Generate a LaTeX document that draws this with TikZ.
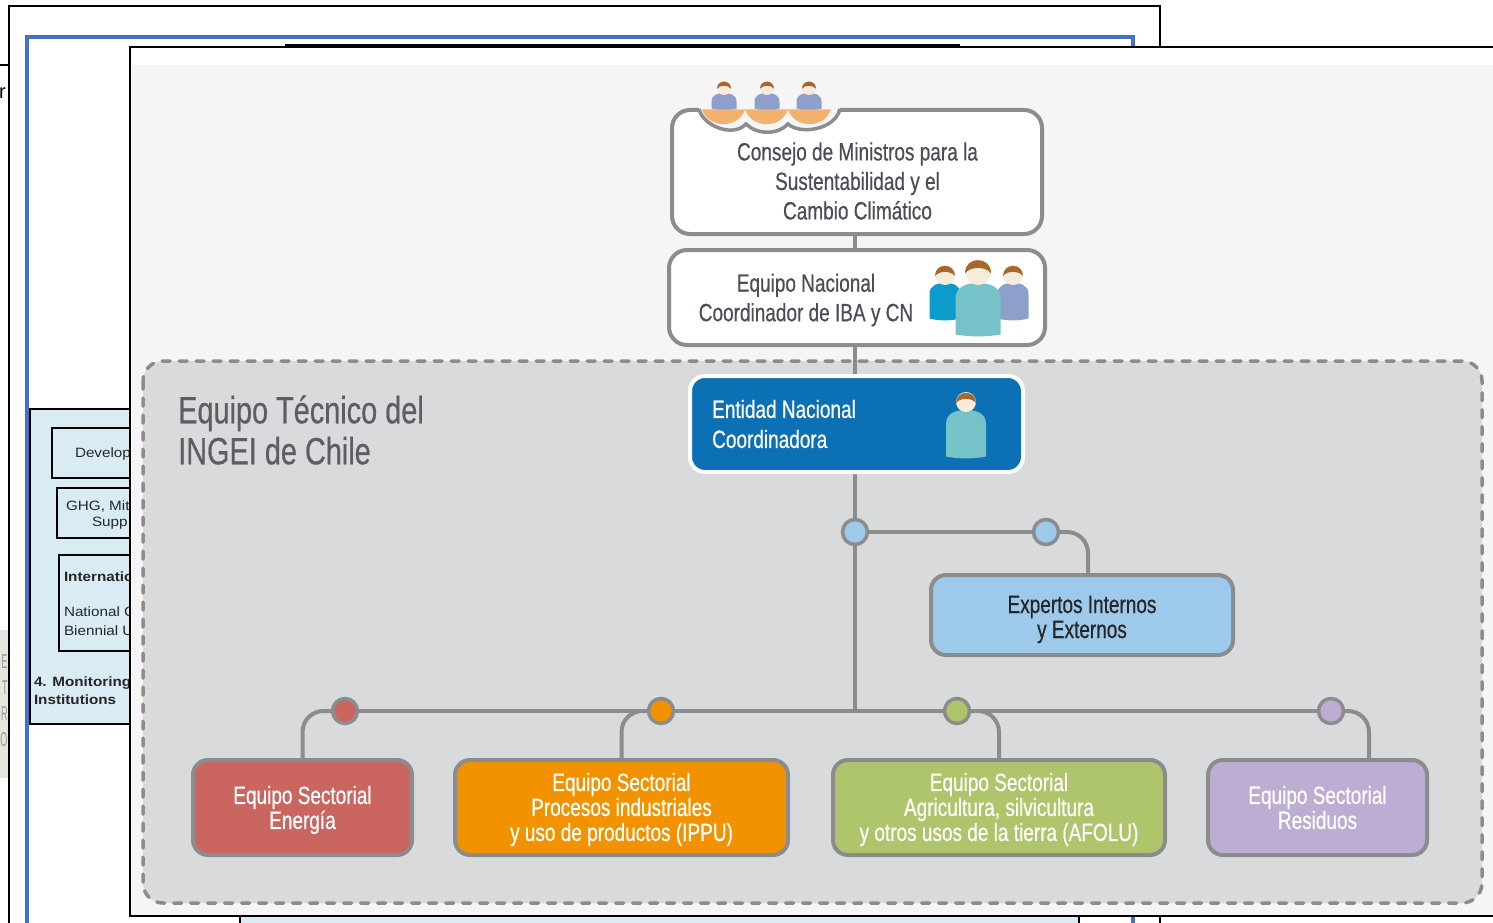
\documentclass[tikz,border=0pt]{standalone}
\usepackage{fontspec}
\setmainfont{Liberation Sans}
\newfontfamily\cond[FakeStretch=0.76,FakeBold=0.5]{Liberation Sans}
\newfontfamily\wider[FakeStretch=1.13]{Liberation Sans}
\newfontfamily\slim[FakeStretch=0.45]{Liberation Sans}
\pgfdeclarelayer{wires}\pgfdeclarelayer{front}
\pgfsetlayers{main,wires,front}
\definecolor{wire}{HTML}{8A8C8E}
\definecolor{panel}{HTML}{F5F5F5}
\definecolor{zone}{HTML}{D9DADC}
\definecolor{framblue}{HTML}{4472C4}
\definecolor{pale}{HTML}{D9ECF4}
\definecolor{ink}{HTML}{4B4E58}
\definecolor{titleink}{HTML}{5C5E63}
\definecolor{cblue}{HTML}{0C70B5}
\definecolor{csky}{HTML}{9DC9EA}
\definecolor{cred}{HTML}{CB655F}
\definecolor{corange}{HTML}{F39200}
\definecolor{cgreen}{HTML}{AEC56B}
\definecolor{cpurple}{HTML}{BDADD3}
\definecolor{bowl}{HTML}{F2B26E}
\definecolor{hair}{HTML}{A6682B}
\definecolor{skin}{HTML}{F7EBDC}
\definecolor{bodyblue}{HTML}{8F9FCB}
\definecolor{bodyteal}{HTML}{76C2C9}
\definecolor{bodycyan}{HTML}{0C9CCB}
\definecolor{patch}{HTML}{E6E6DE}
% cx, head cy, head r, half width, body top, body bottom, colour
\newcommand{\personfig}[7]{%
  \fill[#7] ({#1-#4},{#6-1.5}) -- ({#1-#4},{#5+#4*0.7})
     .. controls ({#1-#4},{#5+#4*0.15}) and ({#1-#4*0.5},{#5}) .. ({#1},{#5})
     .. controls ({#1+#4*0.5},{#5}) and ({#1+#4},{#5+#4*0.15}) .. ({#1+#4},{#5+#4*0.7})
     -- ({#1+#4},{#6-1.5}) .. controls ({#1+#4*0.4},{#6+1}) and ({#1-#4*0.4},{#6+1}) .. cycle;
  \fill[skin] (#1,#2) circle[radius=#3];
  \fill[hair] ({#1-#3},{#2+#3*0.1}) .. controls ({#1-#3},{#2-#3*1.25}) and ({#1+#3},{#2-#3*1.25}) .. ({#1+#3},{#2+#3*0.1})
     .. controls ({#1+#3*0.6},{#2-#3*0.45}) and ({#1-#3*0.6},{#2-#3*0.45}) .. cycle;
}
\tikzset{
  x=1pt,y=-1pt,
  sz/.style 2 args={font=\cond\fontsize{#1}{#2}\selectfont},
  team/.style={draw=wire,line width=4pt,rounded corners=15pt,inner sep=0pt,outer sep=0pt},
  teamtxt/.style={inner sep=0pt,outer sep=0pt,align=center,text=white,sz={25}{25}},
  whitebox/.style={draw=wire,line width=4pt,fill=white,rounded corners=18pt,inner sep=0pt,outer sep=0pt},
  txtlab/.style={inner sep=0pt,outer sep=0pt,align=center,text=ink,sz={25}{29.5}},
  dotnode/.style={circle,draw=wire,line width=3.5pt,minimum size=25pt,inner sep=0pt,outer sep=0pt},
  conn/.style={draw=wire,line width=4pt},
  curvewire/.style={conn,rounded corners=21pt},
  under/.style={inner sep=0pt,outer sep=0pt,anchor=west,text=black!85,font=\wider\fontsize{13.5}{15}\selectfont},
  underbold/.style={under,font=\wider\bfseries\fontsize{13.5}{15}\selectfont},
  ghost/.style={inner sep=0pt,outer sep=0pt,anchor=east,text=black!40,font=\slim\fontsize{20}{20}\selectfont},
  oldframe/.style={draw=black,line width=2pt},
}
\begin{document}
\begin{tikzpicture}
\useasboundingbox (0,0) rectangle (1493,923);
\fill[white] (0,0) rectangle (1493,923);
% layers of the pages behind
\fill[patch] (0,630) rectangle (8,778);
\node[ghost] (gE) at (7.5,662) {E};
\node[ghost] (gT) at (7.5,688) {T};
\node[ghost] (gR) at (7.5,714) {R};
\node[ghost] (gO) at (7.5,740) {O};
\node[inner sep=0pt,anchor=east,font=\fontsize{20}{20}\selectfont] (gr) at (6,93) {r};
\fill[white] (9,6) rectangle (1160,923);
\draw[black,line width=1.5pt] (0,65) -- (9,65);
\draw[oldframe] (9,925) -- (9,6) -- (1160,6) -- (1160,925);
\draw[framblue,line width=4pt] (27,925) -- (27,37) -- (1133,37) -- (1133,925);
\draw[black,line width=2pt] (285,45) -- (960,45);
\draw[black,line width=1.5pt,fill=pale] (30,409) rectangle (200,724);
\draw[black,line width=1.5pt,fill=pale] (240,910) rectangle (1079,930);
\draw[black,line width=1.5pt] (52,428) rectangle (200,478);
\draw[black,line width=1.5pt] (57,488) rectangle (200,538);
\draw[black,line width=1.5pt] (59,555) rectangle (200,651);
\node[under] (u1) at (75,454) {Develop};
\node[under] (u2) at (66,506) {GHG, Mit};
\node[under] (u3) at (92,523) {Supp};
\node[underbold] (u4) at (64,577) {Internatio};
\node[under] (u5) at (64,612) {National C};
\node[under] (u6) at (64,631) {Biennial U};
\node[underbold] (u7) at (34,683) {4. Monitoring};
\node[underbold] (u8) at (34,700) {Institutions};
% front sheet
\draw[black,line width=2pt,fill=white] (130,47) rectangle (1500,916);
\fill[panel] (131.5,65) rectangle (1500,915);
\draw[wire,line width=3.5pt,fill=zone,rounded corners=20pt,dash pattern=on 8pt off 9pt,line cap=round] (143,361) rectangle (1482,903);
\node[inner sep=0pt,anchor=west,align=left,text=titleink,sz={38}{41}] (title) at (178,430) {Equipo Técnico del\\INGEI de Chile};

\begin{pgfonlayer}{front}
\coordinate (trunk) at (855,300);
\node[whitebox,minimum width=370pt,minimum height=124pt] (consejo) at (857,172) {};
\node[txtlab] (consejotxt) at (857.5,181) {Consejo de Ministros para la\\Sustentabilidad y el\\Cambio Climático};
\node[whitebox,minimum width=376pt,minimum height=95pt] (nacional) at (857,297.5) {};
\node[txtlab] (nacionaltxt) at (806,300) {Equipo Nacional\\Coordinador de IBA y CN};
\node[draw=white,line width=4pt,fill=cblue,rounded corners=15pt,inner sep=0pt,outer sep=0pt,minimum width=333pt,minimum height=96pt] (entidad) at (856.5,424) {};
\node[inner sep=0pt,anchor=west,align=left,text=white,sz={25}{30}] (entidadtxt) at (712,424) {Entidad Nacional\\Coordinadora};
\node[team,fill=csky,minimum width=302pt,minimum height=80pt] (expertos) at (1082,615) {};
\node[teamtxt,text=black!85] (expertostxt) at (1082,619.5) {Expertos Internos\\y Externos};
\node[team,fill=cred,minimum width=219pt,minimum height=95pt] (energia) at (302.5,807.5) {};
\node[teamtxt] (energiatxt) at (302.5,810) {Equipo Sectorial\\Energía};
\node[team,fill=corange,minimum width=333pt,minimum height=95pt] (ippu) at (621.5,807.5) {};
\node[teamtxt] (ipputxt) at (621.5,809.5) {Equipo Sectorial\\Procesos industriales\\y uso de productos (IPPU)};
\node[team,fill=cgreen,minimum width=332pt,minimum height=95pt] (afolu) at (999,807.5) {};
\node[teamtxt] (afolutxt) at (999,809.5) {Equipo Sectorial\\Agricultura, silvicultura\\y otros usos de la tierra (AFOLU)};
\node[team,fill=cpurple,minimum width=219pt,minimum height=95pt] (residuos) at (1317.5,807.5) {};
\node[teamtxt] (residuostxt) at (1317.5,807.5) {Equipo Sectorial\\Residuos};
\node[dotnode,fill=csky] (dota) at (855,532) {};
\node[dotnode,fill=csky] (dotb) at (1046,532) {};
\node[dotnode,fill=cred] (dotr) at (345,711) {};
\node[dotnode,fill=corange] (doto) at (661,711) {};
\node[dotnode,fill=cgreen] (dotg) at (957,711) {};
\node[dotnode,fill=cpurple] (dotp) at (1331,711) {};
\coordinate (expdrop) at (1088,575);
\coordinate (resdrop) at (1369,760);
\coordinate (junction) at (855,711);
% council notch and people
\fill[panel] (699,106) -- (840,106) -- (840,110) .. controls (835,130) and (800,135) .. (788,124)
  .. controls (778,135) and (757,135) .. (746,124) .. controls (733,138) and (703,126) .. (699,110) -- cycle;
\draw[wire,line width=3.5pt] (699,109) .. controls (703,126) and (733,138) .. (746,124)
  .. controls (757,135) and (778,135) .. (788,124) .. controls (800,135) and (835,130) .. (840,109);
\personfig{724}{88}{7}{12.5}{93}{110}{bodyblue}
\personfig{767}{88}{7}{12.5}{93}{110}{bodyblue}
\personfig{809}{88}{7}{12.5}{93}{110}{bodyblue}
\fill[bowl] (702,109.5) -- (745,109.5) .. controls (738,129) and (709,129) .. cycle;
\fill[bowl] (745,109.5) -- (788,109.5) .. controls (781,129) and (752,129) .. cycle;
\fill[bowl] (788,109.5) -- (831,109.5) .. controls (824,129) and (795,129) .. cycle;
% team people
\personfig{945}{275}{10}{15.5}{283}{320}{bodycyan}
\personfig{1013}{275}{10}{15.5}{283}{320}{bodyblue}
\personfig{978}{272}{13}{22.5}{283}{336}{bodyteal}
\personfig{966}{402}{10}{20}{410}{458}{bodyteal}
\end{pgfonlayer}

\begin{pgfonlayer}{wires}
\draw[conn] (consejo.south -| trunk) -- (nacional.north -| trunk);
\draw[conn] (nacional.south -| trunk) -- (entidad.north -| trunk);
\draw[conn] (entidad.south -| trunk) -- (dota);
\draw[conn] (dota) -- (junction);
\draw[conn] (dota) -- (dotb);
\draw[curvewire] (dotb) -| (expdrop);
\draw[conn] (dotr) -- (dotp);
\draw[curvewire] (dotr) -| (energia.north);
\draw[curvewire] (doto) -| (ippu.north);
\draw[curvewire] (dotg) -| (afolu.north);
\draw[curvewire] (dotp) -| (resdrop);
\end{pgfonlayer}
\end{tikzpicture}
\end{document}
